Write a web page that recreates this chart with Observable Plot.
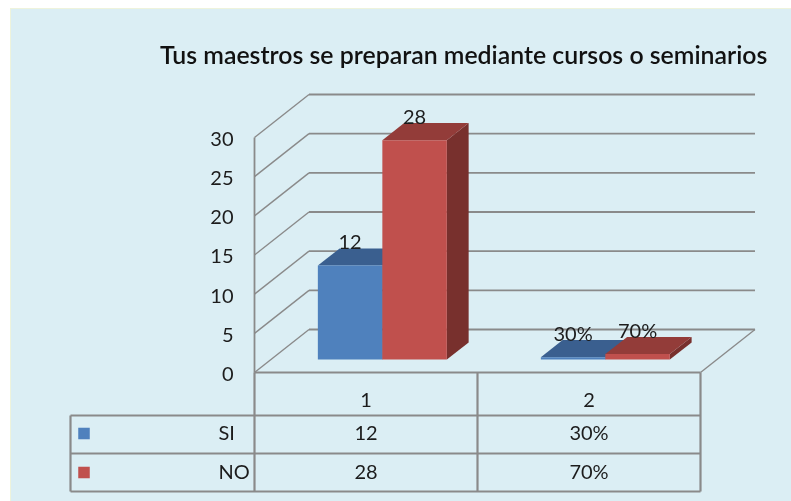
<!DOCTYPE html>
<html><head><meta charset="utf-8">
<script src="https://cdn.jsdelivr.net/npm/d3@7"></script>
<script src="https://cdn.jsdelivr.net/npm/@observablehq/plot@0.6"></script>
<style>
html,body{margin:0;padding:0;background:#fff;width:791px;height:501px;overflow:hidden}
#panel{position:absolute;left:10px;top:8px;width:781px;height:493px;background:#dbeef4;border-left:1px solid #eef3dc;border-top:1px solid #eef3dc;box-sizing:border-box}
#title{position:absolute;left:160px;top:39px;font:600 24.85px Lato,sans-serif;color:#111;white-space:nowrap;filter:blur(0.4px)}
#chart{position:absolute;left:0;top:0;filter:blur(0.45px)}
</style></head><body>
<div id="panel"></div>
<div id="title">Tus maestros se preparan mediante cursos o seminarios</div>
<div id="chart"></div>
<script>
const titleText = "Tus maestros se preparan mediante cursos o seminarios";
const categories = ["1", "2"];
const seriesNames = ["SI", "NO"];
const siValues = [12, 0.3];
const noValues = [28, 0.7];
const siLabels = ["12", "30%"];
const noLabels = ["28", "70%"];
const yTicks = [0, 5, 10, 15, 20, 25, 30];
const palette = {
  SI: {front: "#4f81bd", top: "#3a5f8f", side: "#2f4f78"},
  NO: {front: "#c0504d", top: "#933c39", side: "#78302d"}
};

// oblique projection: depth 0 is the front plane, depth 1 is the back wall
const depthX = 54.5 / 223;   // in category units
const depthY = 43 * 30 / 235; // in value units
const proj = (u, v, d) => ({x: u + d * depthX, y: v + d * depthY});
const unit = 30 / 235; // value units per pixel, used by the table below the floor

// bars
const gap = 47 / 223, barW = 64.5 / 223, dFront = 0.3, dBack = 0.7;
const faces = [];
const labels = [];
categories.forEach((c, i) => {
  seriesNames.forEach((s, k) => {
    const v = (k === 0 ? siValues : noValues)[i];
    const a = i + gap + k * barW, b = a + barW;
    const id = `${c}-${s}`;
    const add = (face, pts, fill) => pts.forEach(p => faces.push({...proj(...p), id: `${id}-${face}`, fill}));
    add("side", [[b,0,dFront],[b,0,dBack],[b,v,dBack],[b,v,dFront]], palette[s].side);
    add("top", [[a,v,dFront],[b,v,dFront],[b,v,dBack],[a,v,dBack]], palette[s].top);
    add("front", [[a,0,dFront],[b,0,dFront],[b,v,dFront],[a,v,dFront]], palette[s].front);
    labels.push({...proj((a + b) / 2, v, dFront), text: (k === 0 ? siLabels : noLabels)[i]});
  });
});

// data table below the floor
const rowEdges = [-43 * unit, -81 * unit, -119 * unit];
const rowMid = {cat: -28 * unit, SI: -61 * unit, NO: -100 * unit};
const tableX0 = -184 / 223; // left edge of the legend column
const tableCells = [
  ...categories.map((c, i) => ({x: i + 0.5, y: rowMid.cat, text: c})),
  ...siLabels.map((t, i) => ({x: i + 0.5, y: rowMid.SI, text: t})),
  ...noLabels.map((t, i) => ({x: i + 0.5, y: rowMid.NO, text: t}))
];
const legendRows = [
  {name: "SI", y: rowMid.SI, fill: palette.SI.front},
  {name: "NO", y: rowMid.NO, fill: palette.NO.front}
];

const gridColor = "#8a8a8a";
const back = proj(0, 0, 1);
const chart = Plot.plot({
  width: 791, height: 501,
  marginLeft: 254, marginRight: 91, marginTop: 137, marginBottom: 129,
  x: {domain: [0, 2], axis: null},
  y: {domain: [0, 30]},
  color: {type: "identity"},
  style: {background: "transparent", fontFamily: "Lato, sans-serif", fontSize: "20px", color: "#1c1c1c"},
  marks: [
    // walls
    Plot.link(yTicks, {x1: back.x, x2: 2 + depthX, y1: v => v + depthY, y2: v => v + depthY, stroke: gridColor, strokeWidth: 1.8}),
    Plot.link(yTicks, {x1: 0, x2: back.x, y1: v => v, y2: v => v + depthY, stroke: gridColor, strokeWidth: 1.4}),
    Plot.link([0], {x1: 2, x2: 2 + depthX, y1: 0, y2: depthY, stroke: gridColor, strokeWidth: 1.4}),
    Plot.link([0], {x1: 0, x2: 0, y1: 0, y2: 30, stroke: gridColor, strokeWidth: 1.8}),
    // bars
    Plot.line(faces, {x: "x", y: "y", z: "id", fill: "fill", stroke: null, curve: "linear-closed"}),
    Plot.text(labels, {x: "x", y: "y", text: "text", dy: -23, fill: "#1c1c1c"}),
    // y axis
    Plot.axisY({ticks: yTicks, tickSize: 0, tickPadding: 21, label: null, anchor: "left", fill: "#1c1c1c", dy: 2}),
    // table
    Plot.link([0, 1, 2], {x1: d => d, x2: d => d, y1: 0, y2: rowEdges[2], stroke: gridColor, strokeWidth: 2.2}),
    Plot.link([0, ...rowEdges], {x1: (d, i) => i === 0 ? 0 : tableX0, x2: 2, y1: d => d, y2: d => d, stroke: gridColor, strokeWidth: 2.2}),
    Plot.link([0], {x1: tableX0, x2: tableX0, y1: rowEdges[0], y2: rowEdges[2], stroke: gridColor, strokeWidth: 2.2}),
    Plot.text(tableCells, {x: "x", y: "y", text: "text", fill: "#1c1c1c"}),
    Plot.text(legendRows, {x: -36 / 223, y: "y", text: "name", textAnchor: "start", fill: "#1c1c1c"}),
    Plot.dot(legendRows, {x: tableX0 + 13.5 / 223, y: "y", fill: "fill", symbol: "square", r: 6.5, stroke: null})
  ]
});
document.getElementById("chart").appendChild(chart);
document.getElementById("title").textContent = titleText;
</script>
</body></html>
